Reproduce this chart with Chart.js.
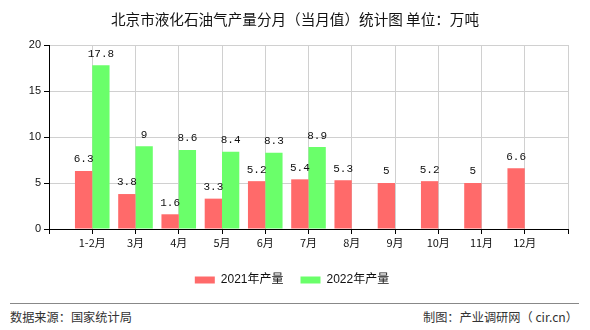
<!DOCTYPE html>
<html><head><meta charset="utf-8">
<script src="https://cdn.jsdelivr.net/npm/chart.js@4/dist/chart.umd.min.js"></script>
<style>
html,body{margin:0;padding:0;background:#fff;}
#wrap{position:relative;width:590px;height:330px;overflow:hidden;font-family:"Noto Sans CJK SC",sans-serif;}
#title{position:absolute;left:0;top:8px;width:590px;text-align:center;font-size:14.6px;color:#111;}
#cv{position:absolute;left:0;top:0;}
#line{position:absolute;left:10px;top:303px;width:569px;height:1px;background:#888;}
#src{position:absolute;left:10px;top:308px;font-size:12.2px;color:#333;}
#mk{position:absolute;right:12px;top:308px;font-size:12.2px;color:#333;}
</style></head>
<body><div id="wrap">
<canvas id="cv" width="590" height="296" style="width:590px;height:296px"></canvas>
<div id="title">北京市液化石油气产量分月（当月值）统计图 单位：万吨</div>
<div id="line"></div>
<div id="src">数据来源：国家统计局</div>
<div id="mk">制图：产业调研网（ cir.cn）</div>
</div>
<script>
const categories = ['1-2月','3月','4月','5月','6月','7月','8月','9月','10月','11月','12月'];
const series2021 = [6.3,3.8,1.6,3.3,5.2,5.4,5.3,5,5.2,5,6.6];
const series2022 = [17.8,9,8.6,8.4,8.3,8.9,null,null,null,null,null];
const yTicks = [0,5,10,15,20];
const seriesNames = ['2021年产量','2022年产量'];

const labels = [''].concat(categories, ['']);
const pad = arr => [null].concat(arr, [null]);

const valueLabels = {
  id: 'valueLabels',
  afterDatasetsDraw(chart) {
    const ctx = chart.ctx;
    ctx.save();
    ctx.font = '11px "Liberation Mono", monospace';
    ctx.fillStyle = '#111';
    ctx.textAlign = 'center';
    ctx.textBaseline = 'bottom';
    chart.data.datasets.forEach((ds, i) => {
      const meta = chart.getDatasetMeta(i);
      meta.data.forEach((el, j) => {
        const v = ds.data[j];
        if (v === null || v === undefined) return;
        ctx.fillText(String(v), el.x, el.y - 6);
      });
    });
    ctx.restore();
  }
};

new Chart(document.getElementById('cv'), {
  type: 'bar',
  data: {
    labels: labels,
    datasets: [
      { label: seriesNames[0], data: pad(series2021), backgroundColor: '#FF6A6A', categoryPercentage: 0.8, barPercentage: 1 },
      { label: seriesNames[1], data: pad(series2022), backgroundColor: '#6AFF6A', categoryPercentage: 0.8, barPercentage: 1 }
    ]
  },
  options: {
    responsive: false,
    animation: false,
    devicePixelRatio: 1,
    layout: { padding: { top: 45, right: 22, left: 16, bottom: 0 } },
    plugins: {
      title: { display: false },
      tooltip: { enabled: false },
      legend: {
        position: 'bottom',
        labels: {
          boxWidth: 20, boxHeight: 7, padding: 17,
          color: '#111',
          font: { family: '"Liberation Sans","Noto Sans CJK SC",sans-serif', size: 12 }
        }
      }
    },
    scales: {
      x: {
        offset: false,
        grid: { offset: false, color: '#d0d0d0', tickColor: '#000', tickLength: 5, drawOnChartArea: true },
        border: { color: '#000', width: 1 },
        ticks: { autoSkip: false, maxRotation: 0, padding: 2, color: '#111',
          font: { family: '"Noto Sans CJK SC",sans-serif', size: 11 } },
        afterFit(s) { s.height = 28; }
      },
      y: {
        min: 0, max: 20,
        afterBuildTicks(s) { s.ticks = yTicks.map(v => ({ value: v })); },
        grid: { color: '#d0d0d0', tickColor: '#000', tickLength: 5 },
        border: { color: '#000', width: 1 },
        ticks: { padding: 3, color: '#111',
          font: { family: '"Liberation Sans",sans-serif', size: 11 } },
        afterFit(s) { s.width = 33; }
      }
    }
  },
  plugins: [valueLabels]
});
</script>
</body></html>
